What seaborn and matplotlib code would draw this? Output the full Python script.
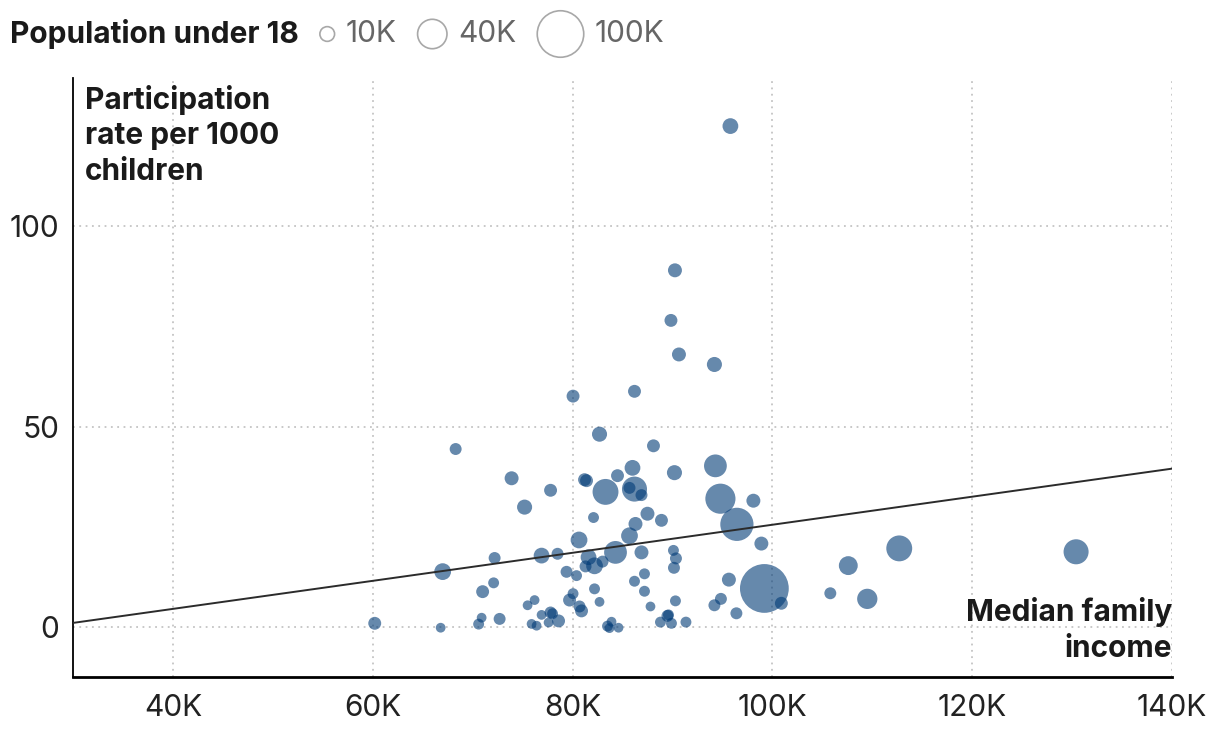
import numpy as np
import pandas as pd
import matplotlib
matplotlib.use("Agg")
import matplotlib.pyplot as plt
import seaborn as sns

# median family income (thousands of $)
income_k = [95.8, 90.25, 89.85, 90.65, 94.2, 86.2, 80.05, 68.3, 82.7, 88.1,
            73.9, 77.8, 75.2, 81.2, 81.4, 84.5, 86.0, 90.2, 83.3, 86.2,
            85.7, 86.9, 82.1, 87.5, 88.9, 86.3, 85.7, 80.65, 84.3, 81.6,
            82.2, 81.3, 83.0, 86.9, 90.1, 90.35, 90.15, 67.0, 72.2, 76.9,
            78.5, 79.4, 80.4, 87.2, 86.2, 72.1, 71.0, 82.2, 87.2, 80.05,
            79.7, 82.7, 80.7, 80.9, 90.3, 87.8, 75.5, 76.2, 70.9, 70.6,
            72.7, 66.8, 76.9, 77.8, 78.0, 78.6, 77.6, 75.9, 76.4, 83.5,
            83.9, 83.7, 84.6, 88.8, 89.5, 89.6, 89.9, 91.35, 94.3, 94.8,
            98.1, 96.45, 98.9, 95.65, 99.2, 100.9, 94.85, 94.2, 96.4, 105.8,
            107.6, 109.5, 112.7, 130.4, 60.2]

# participation rate per 1000 children
rate = [125.0, 89.0, 76.5, 68.0, 65.5, 58.8, 57.6, 44.4, 48.1, 45.2,
        37.1, 34.1, 29.9, 36.75, 36.5, 37.75, 39.7, 38.5, 33.7, 34.4,
        34.7, 32.9, 27.3, 28.25, 26.6, 25.7, 22.75, 21.7, 18.6, 17.4,
        15.25, 15.1, 16.3, 18.6, 19.1, 17.1, 14.75, 13.8, 17.2, 17.8,
        18.25, 13.75, 12.8, 13.25, 11.4, 11.0, 8.8, 9.5, 8.9, 8.3,
        6.7, 6.25, 5.1, 4.0, 6.5, 5.1, 5.4, 6.7, 2.3, 0.7,
        2.0, -0.2, 3.0, 3.6, 3.3, 1.5, 1.1, 0.75, 0.3, 0.2,
        1.3, -0.3, -0.2, 1.2, 2.75, 3.0, 0.9, 1.2, 40.2, 32.0,
        31.5, 25.6, 20.8, 11.8, 9.6, 5.9, 7.0, 5.4, 3.4, 8.4,
        15.3, 7.0, 19.6, 18.75, 0.9]

# population under 18 (thousands)
pop_k = [11.5, 9, 7.7, 9, 10.5, 7.7, 7.7, 6.6, 10.5, 7.7,
         9, 7.7, 10.5, 7.7, 7.7, 7.7, 11.5, 10.5, 31, 29,
         6.6, 6.6, 5.5, 9, 7.7, 9, 13, 13, 24, 11.5,
         13, 6.6, 6.6, 9, 5.5, 6.6, 6.6, 13, 6.6, 11.5,
         6.6, 6.6, 5.5, 5.5, 5.5, 5.5, 7.7, 5.5, 5.5, 5.5,
         7.7, 4.4, 6.6, 7.7, 5.5, 4.4, 4.4, 4.4, 4.4, 5.5,
         6.6, 4.4, 4.4, 6.6, 5.5, 7.7, 4.4, 4.4, 4.4, 5.5,
         4.4, 4.4, 4.4, 5.5, 6.6, 5.5, 5.5, 5.5, 24, 42,
         9, 51, 9, 9, 110, 7.7, 6.6, 6.6, 6.6, 6.6,
         16.5, 19, 31, 29, 7.7]

# fitted trend line
trend_x = [30, 140]
trend_y = [1.0, 39.5]

legend_pops = [10, 40, 100]
legend_labels = ["10K", "40K", "100K"]

df = pd.DataFrame({"income": income_k, "rate": rate, "pop": pop_k})

sns.set_theme(style="white")
plt.rcParams['font.family'] = ['Inter', 'DejaVu Sans']

W, H = 1220, 738
fig = plt.figure(figsize=(W / 100, H / 100), dpi=100)
ax = fig.add_axes([73 / W, 1 - 677 / H, (1172 - 73) / W, (677 - 78) / H])

# circle area ~ population: 100K -> ~46px wide circle
k = (0.72 * 4.65) ** 2
sns.scatterplot(data=df, x="income", y="rate", size="pop",
                sizes=(0, k * 200), size_norm=(0, 200),
                color="#003a76", alpha=0.6, linewidth=0, legend=False, ax=ax, zorder=3)

sns.lineplot(x=trend_x, y=trend_y, color="#2b2b2b", linewidth=1.4, ax=ax, zorder=4)

ax.set_xlim(30, 140)
ax.set_ylim(-12.5, 137)
ax.set_xticks([40, 60, 80, 100, 120, 140])
ax.set_xticklabels(["40K", "60K", "80K", "100K", "120K", "140K"])
ax.set_yticks([0, 50, 100])
ax.tick_params(axis="both", length=0, labelsize=21.5, colors="#222222")
ax.tick_params(axis="x", pad=12)
ax.tick_params(axis="y", pad=10)
ax.set_xlabel("")
ax.set_ylabel("")
ax.grid(True, color="#c4c4c4", linestyle=(0, (1, 2.5)), linewidth=1.3)
for s in ["top", "right"]:
    ax.spines[s].set_visible(False)
ax.spines["left"].set_color("black")
ax.spines["left"].set_linewidth(1.3)
ax.spines["bottom"].set_color("black")
ax.spines["bottom"].set_linewidth(2)

ax.text(0.011, 0.988, "Participation\nrate per 1000\nchildren", transform=ax.transAxes,
        ha="left", va="top", fontsize=21.5, fontweight="bold", color="#1a1a1a",
        linespacing=1.33, zorder=5)
ax.text(1.0, 0.078, "Median family\nincome", transform=ax.transAxes,
        ha="right", va="center", fontsize=21.5, fontweight="bold", color="#1a1a1a",
        linespacing=1.35, zorder=5)

# size legend, laid out in pixel units along the top
lax = fig.add_axes([0, 1 - 68 / H, 1, 68 / H])
lax.set_xlim(0, W)
lax.set_ylim(68, 0)
lax.axis("off")
renderer = fig.canvas.get_renderer()
title = lax.text(10, 34, "Population under 18", ha="left", va="center",
                 fontsize=21.5, fontweight="bold", color="#1a1a1a")
x = title.get_window_extent(renderer).x1 + 21
for p, lab in zip(legend_pops, legend_labels):
    r = np.sqrt(k * p) / 0.72 / 2
    lax.scatter([x + r], [34], s=k * p, facecolors="none", edgecolors="#a8a8a8", linewidths=1.2)
    t = lax.text(x + 2 * r + 11, 34, lab, ha="left", va="center", fontsize=21.5, color="#666666")
    x = t.get_window_extent(renderer).x1 + 21

fig.savefig("out.png", dpi=100)
